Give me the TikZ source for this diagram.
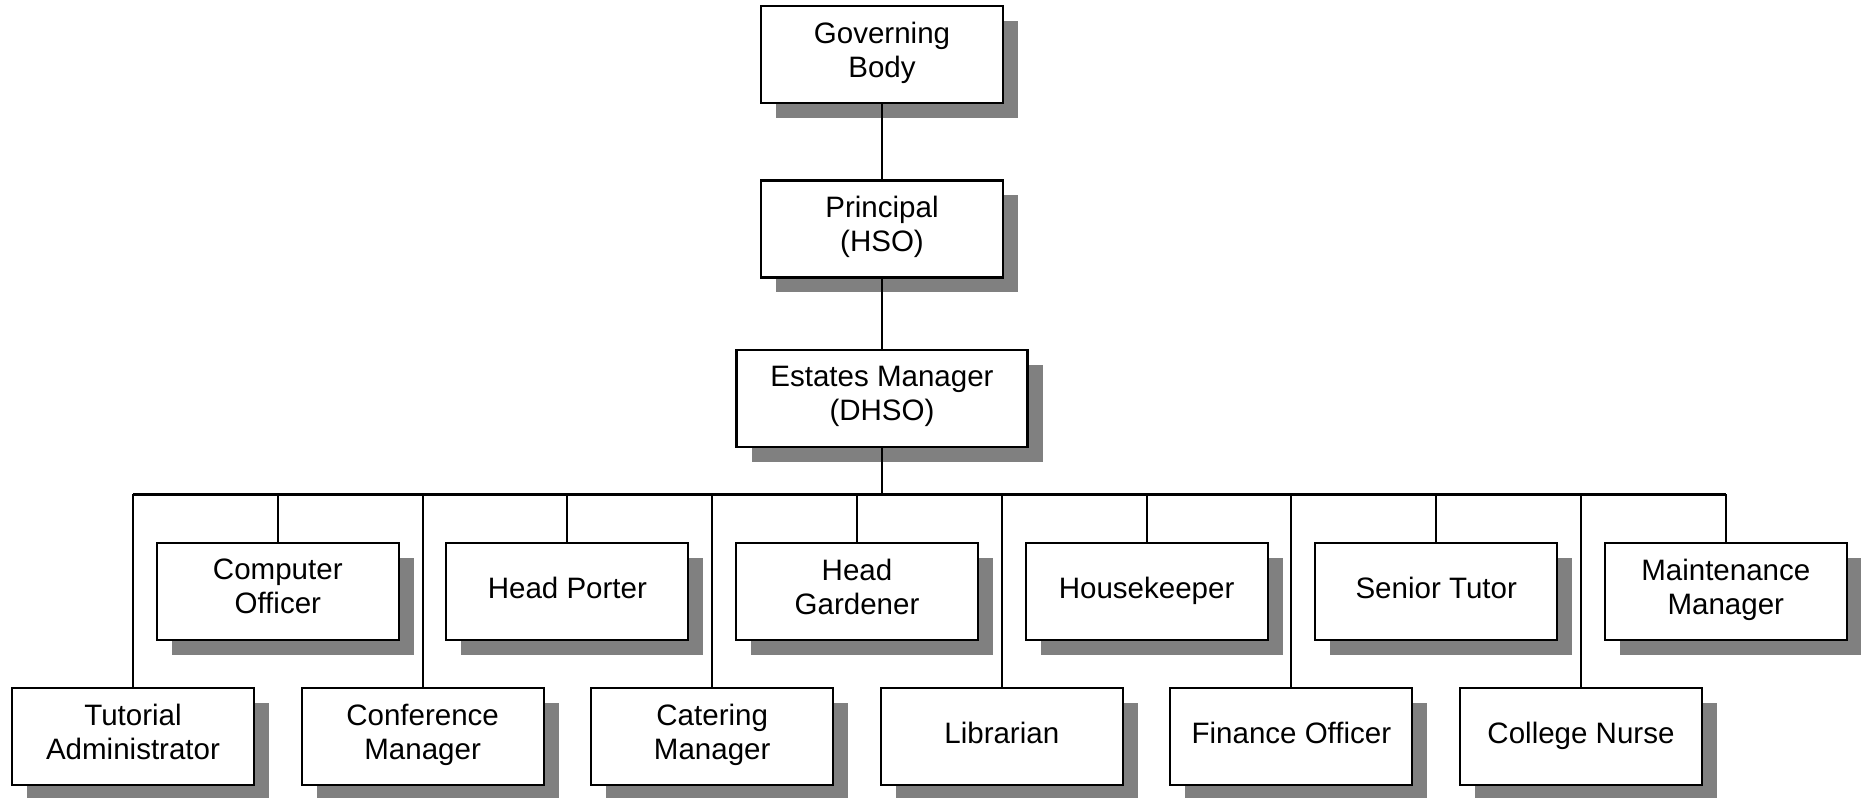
\documentclass[tikz,border=0pt]{standalone}
\usepackage{fontspec}
\setmainfont{Liberation Sans}
\usepackage{tikz}
\usetikzlibrary{positioning, shadows}

\tikzset{
  post/.style={draw, line width=0.6pt, fill=white, align=center,
    minimum width=2.42cm, minimum height=0.97cm, inner sep=1pt,
    font=\fontsize{8.4}{9.7}\selectfont,
    execute at begin node=\strut, execute at end node=\strut,
    drop shadow={shadow xshift=0.15cm, shadow yshift=-0.15cm, fill=gray, opacity=1}},
  link/.style={line width=0.6pt}
}

\begin{document}
\begin{tikzpicture}
    \useasboundingbox (0,0) rectangle (18.61,-7.98);

    % Top of the chart
    \node[post] (gov) at (8.82,-0.545) {Governing\\Body};
    \node[post] (principal) at (8.82,-2.29) {Principal\\(HSO)};
    \node[post, minimum width=2.91cm] (estates) at (8.82,-3.985) {Estates Manager\\(DHSO)};

    \draw[link] (gov) -- (principal);
    \draw[link] (principal) -- (estates);

    % Bus line
    \coordinate (busL) at (1.33,-4.945);
    \coordinate (busR) at (17.258,-4.945);
    \draw[link] (busL) -- (busR);
    \draw[link] (estates) -- (estates |- busL);

    % Posts below the bus, alternating low / high
    \foreach \n/\i/\y/\t in {tutor/0/-7.365/{Tutorial\\Administrator},
        computer/1/-5.915/{Computer\\Officer},
        conference/2/-7.365/{Conference\\Manager},
        porter/3/-5.915/{Head Porter},
        catering/4/-7.365/{Catering\\Manager},
        gardener/5/-5.915/{Head\\Gardener},
        librarian/6/-7.365/{Librarian},
        housekeeper/7/-5.915/{Housekeeper},
        finance/8/-7.365/{Finance Officer},
        senior/9/-5.915/{Senior Tutor},
        nurse/10/-7.365/{College Nurse},
        maintenance/11/-5.915/{Maintenance\\Manager}} {
      \node[post] (\n) at (1.33+\i*1.448,\y) {\t};
      \draw[link] (\n) -- (\n |- busL);
    }

  \end{tikzpicture}
\end{document}
